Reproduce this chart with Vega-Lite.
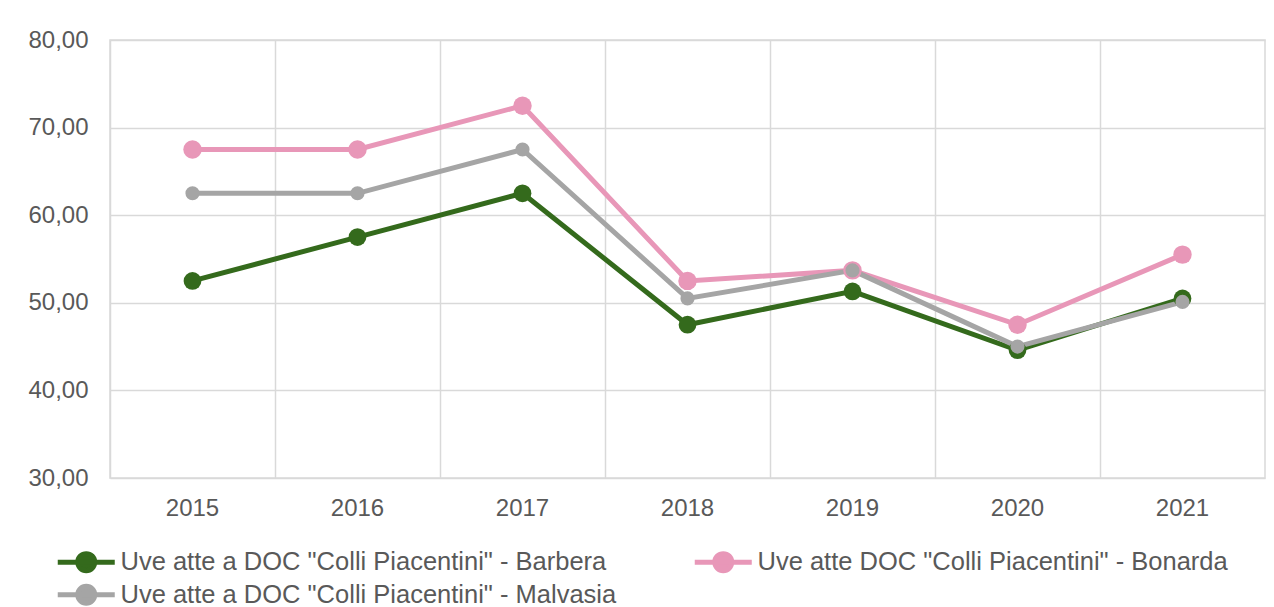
{
  "$schema": "https://vega.github.io/schema/vega-lite/v6.json",
  "width": 1155,
  "height": 438,
  "autosize": "none",
  "padding": {"left": 110, "top": 40, "right": 9, "bottom": 129},
  "background": "white",
  "data": {
    "values": [
      {"anno": "2015", "serie": "Uve atte a DOC \"Colli Piacentini\" - Barbera", "valore": 52.5},
      {"anno": "2016", "serie": "Uve atte a DOC \"Colli Piacentini\" - Barbera", "valore": 57.5},
      {"anno": "2017", "serie": "Uve atte a DOC \"Colli Piacentini\" - Barbera", "valore": 62.5},
      {"anno": "2018", "serie": "Uve atte a DOC \"Colli Piacentini\" - Barbera", "valore": 47.5},
      {"anno": "2019", "serie": "Uve atte a DOC \"Colli Piacentini\" - Barbera", "valore": 51.3},
      {"anno": "2020", "serie": "Uve atte a DOC \"Colli Piacentini\" - Barbera", "valore": 44.6},
      {"anno": "2021", "serie": "Uve atte a DOC \"Colli Piacentini\" - Barbera", "valore": 50.5},
      {"anno": "2015", "serie": "Uve atte DOC \"Colli Piacentini\" - Bonarda", "valore": 67.5},
      {"anno": "2016", "serie": "Uve atte DOC \"Colli Piacentini\" - Bonarda", "valore": 67.5},
      {"anno": "2017", "serie": "Uve atte DOC \"Colli Piacentini\" - Bonarda", "valore": 72.5},
      {"anno": "2018", "serie": "Uve atte DOC \"Colli Piacentini\" - Bonarda", "valore": 52.5},
      {"anno": "2019", "serie": "Uve atte DOC \"Colli Piacentini\" - Bonarda", "valore": 53.7},
      {"anno": "2020", "serie": "Uve atte DOC \"Colli Piacentini\" - Bonarda", "valore": 47.5},
      {"anno": "2021", "serie": "Uve atte DOC \"Colli Piacentini\" - Bonarda", "valore": 55.5},
      {"anno": "2015", "serie": "Uve atte a DOC \"Colli Piacentini\" - Malvasia", "valore": 62.5},
      {"anno": "2016", "serie": "Uve atte a DOC \"Colli Piacentini\" - Malvasia", "valore": 62.5},
      {"anno": "2017", "serie": "Uve atte a DOC \"Colli Piacentini\" - Malvasia", "valore": 67.5},
      {"anno": "2018", "serie": "Uve atte a DOC \"Colli Piacentini\" - Malvasia", "valore": 50.5},
      {"anno": "2019", "serie": "Uve atte a DOC \"Colli Piacentini\" - Malvasia", "valore": 53.7},
      {"anno": "2020", "serie": "Uve atte a DOC \"Colli Piacentini\" - Malvasia", "valore": 45.0},
      {"anno": "2021", "serie": "Uve atte a DOC \"Colli Piacentini\" - Malvasia", "valore": 50.1}
    ]
  },
  "encoding": {
    "x": {
      "field": "anno",
      "type": "ordinal",
      "scale": {"type": "band", "paddingInner": 0, "paddingOuter": 0},
      "axis": {
        "title": null,
        "labelAngle": 0,
        "domain": false,
        "ticks": false,
        "grid": true,
        "bandPosition": 0,
        "labelPadding": 18,
        "labelBaseline": "top"
      }
    },
    "y": {
      "field": "valore",
      "type": "quantitative",
      "scale": {"domain": [30, 80], "nice": false, "zero": false},
      "axis": {
        "title": null,
        "values": [30, 40, 50, 60, 70, 80],
        "labelExpr": "replace(format(datum.value, '.2f'), '.', ',')",
        "domain": false,
        "ticks": false,
        "grid": true,
        "labelPadding": 22
      }
    },
    "color": {
      "field": "serie",
      "type": "nominal",
      "sort": null,
      "scale": {
        "domain": [
          "Uve atte a DOC \"Colli Piacentini\" - Barbera",
          "Uve atte DOC \"Colli Piacentini\" - Bonarda",
          "Uve atte a DOC \"Colli Piacentini\" - Malvasia"
        ],
        "range": ["#346a1c", "#e897b8", "#a5a5a5"]
      },
      "legend": {
        "title": null,
        "orient": "none",
        "legendX": -55,
        "legendY": 509,
        "direction": "horizontal",
        "columns": 2,
        "columnPadding": 67,
        "rowPadding": -5,
        "symbolType": "M-1,0L4.7,0M2.7,0A0.85,0.85,0,1,1,1,0A0.85,0.85,0,1,1,2.7,0Z",
        "symbolSize": 400,
        "symbolStrokeWidth": 5,
        "symbolOpacity": 1,
        "labelOffset": 40,
        "labelFont": "Liberation Sans",
        "labelFontSize": 25.5,
        "labelColor": "#595959",
        "labelLimit": 800,
        "encode": {
          "symbols": {
            "update": {
              "fill": {"scale": "color", "field": "value"},
              "stroke": {"scale": "color", "field": "value"},
              "strokeWidth": {"value": 5}
            }
          }
        }
      }
    }
  },
  "layer": [
    {"mark": {"type": "line", "strokeWidth": 5}},
    {
      "transform": [{"filter": "datum.serie == 'Uve atte a DOC \"Colli Piacentini\" - Barbera'"}],
      "mark": {"type": "point", "filled": true, "opacity": 1, "size": 315}
    },
    {
      "transform": [{"filter": "datum.serie == 'Uve atte DOC \"Colli Piacentini\" - Bonarda'"}],
      "mark": {"type": "point", "filled": true, "opacity": 1, "size": 340}
    },
    {
      "transform": [{"filter": "datum.serie == 'Uve atte a DOC \"Colli Piacentini\" - Malvasia'"}],
      "mark": {"type": "point", "filled": true, "opacity": 1, "size": 200}
    }
  ],
  "config": {
    "view": {"stroke": "#d9d9d9", "strokeWidth": 1.5},
    "axis": {
      "gridColor": "#d9d9d9",
      "gridWidth": 1.5,
      "labelFont": "Liberation Sans",
      "labelFontSize": 24,
      "labelColor": "#595959"
    }
  }
}
